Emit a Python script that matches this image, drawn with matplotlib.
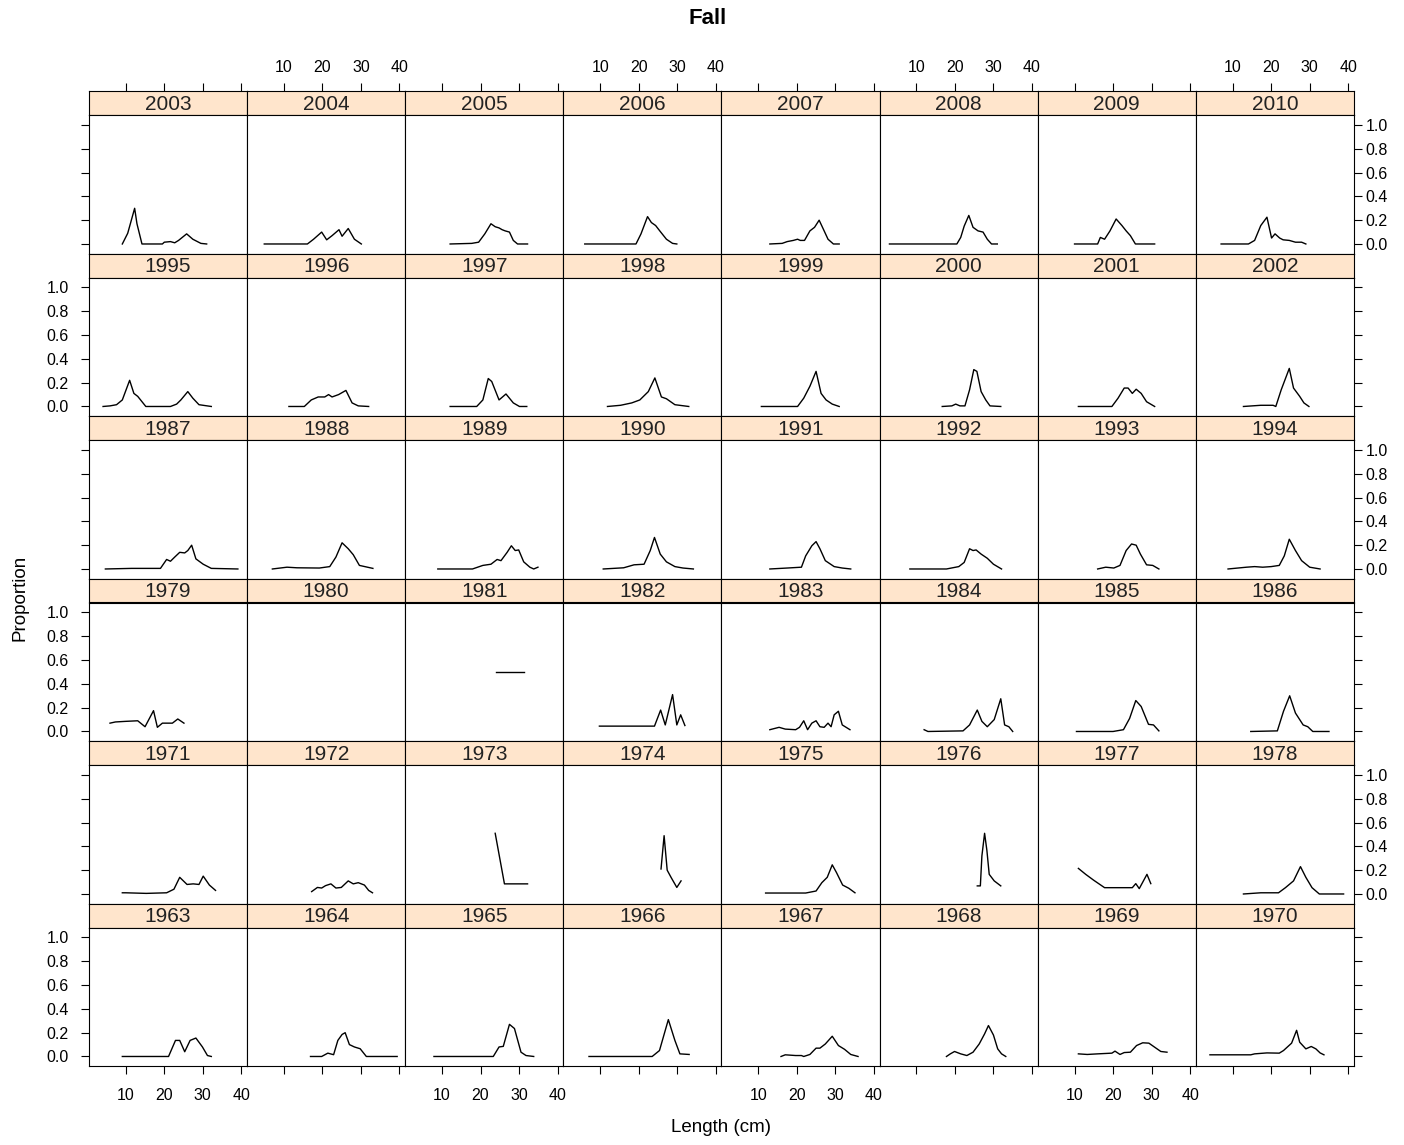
import matplotlib
matplotlib.use('Agg')
import matplotlib.pyplot as plt

plt.rcParams['font.family'] = ['Liberation Sans', 'DejaVu Sans']

# length-frequency proportions by year (Fall survey)
L2003 = [9.1, 10.5, 12.3, 12.9, 14.2, 19.5, 20.0, 21.6, 22.7, 23.7, 25.8, 27.4, 29.5, 31.0]
P2003 = [0, 0.09, 0.30, 0.17, 0, 0, 0.015, 0.02, 0.01, 0.03, 0.085, 0.04, 0.005, 0]
L2004 = [4.9, 16.1, 17.7, 19.8, 21.1, 22.5, 24.3, 25.1, 26.7, 28.3, 30.1]
P2004 = [0, 0, 0.04, 0.10, 0.035, 0.07, 0.12, 0.065, 0.13, 0.04, 0]
L2005 = [12.1, 17.7, 19.5, 21.1, 22.7, 23.8, 24.8, 25.6, 26.4, 27.5, 28.5, 29.6, 32.2]
P2005 = [0, 0.005, 0.015, 0.085, 0.17, 0.145, 0.135, 0.12, 0.11, 0.10, 0.03, 0, 0]
L2006 = [6.0, 19.3, 20.6, 22.3, 23.3, 24.4, 25.6, 27.2, 28.8, 29.9]
P2006 = [0, 0, 0.085, 0.23, 0.18, 0.155, 0.105, 0.04, 0.005, 0]
L2007 = [13.0, 16.2, 17.5, 19.1, 20.2, 20.9, 22.0, 23.4, 24.6, 25.8, 27.1, 28.1, 29.5, 31.0]
P2007 = [0, 0.005, 0.02, 0.03, 0.04, 0.03, 0.03, 0.11, 0.14, 0.20, 0.11, 0.04, 0, 0]
L2008 = [3.0, 20.5, 21.5, 22.4, 23.6, 24.7, 26.0, 27.3, 28.4, 29.5, 31.0]
P2008 = [0, 0, 0.055, 0.15, 0.24, 0.14, 0.11, 0.10, 0.04, 0, 0]
L2009 = [10.0, 16.0, 16.7, 17.8, 19.2, 20.8, 22.3, 23.4, 24.5, 25.8, 30.8]
P2009 = [0, 0, 0.055, 0.04, 0.11, 0.21, 0.155, 0.11, 0.07, 0, 0]
L2010 = [7.0, 14.1, 15.7, 17.3, 18.9, 20.1, 21.0, 22.2, 23.1, 24.7, 26.3, 27.9, 29.0]
P2010 = [0, 0, 0.03, 0.155, 0.225, 0.05, 0.085, 0.05, 0.035, 0.03, 0.015, 0.015, 0]

L1995 = [4.1, 5.9, 7.6, 9.1, 11.0, 12.1, 13.1, 15.2, 21.6, 23.2, 24.3, 26.1, 27.4, 29.0, 32.2]
P1995 = [0, 0.005, 0.015, 0.055, 0.22, 0.11, 0.085, 0, 0, 0.02, 0.055, 0.125, 0.07, 0.015, 0]
L1996 = [11.3, 15.3, 17.1, 18.9, 20.6, 21.6, 22.5, 24.2, 26.1, 27.7, 29.3, 32.0]
P1996 = [0, 0, 0.055, 0.08, 0.08, 0.10, 0.08, 0.10, 0.135, 0.03, 0.005, 0]
L1997 = [12.1, 19.0, 20.6, 22.0, 22.9, 24.8, 26.6, 28.5, 30.1, 32.0]
P1997 = [0, 0, 0.055, 0.235, 0.21, 0.055, 0.105, 0.03, 0, 0]
L1998 = [11.9, 15.3, 18.2, 20.3, 22.5, 24.2, 25.9, 27.2, 29.4, 33.0]
P1998 = [0, 0.01, 0.03, 0.055, 0.125, 0.24, 0.08, 0.065, 0.015, 0]
L1999 = [10.8, 20.2, 21.8, 23.4, 25.0, 26.3, 27.6, 29.2, 31.0]
P1999 = [0, 0, 0.07, 0.17, 0.295, 0.11, 0.055, 0.02, 0]
L2000 = [16.7, 19.2, 20.2, 21.3, 22.6, 23.8, 24.9, 25.7, 26.8, 28.0, 29.1, 31.9]
P2000 = [0, 0.005, 0.02, 0.005, 0.005, 0.14, 0.31, 0.295, 0.125, 0.055, 0.005, 0]
L2001 = [11.0, 19.7, 21.3, 22.9, 23.9, 25.0, 26.0, 27.3, 28.7, 30.8]
P2001 = [0, 0, 0.07, 0.155, 0.155, 0.11, 0.145, 0.11, 0.04, 0]
L2002 = [12.8, 17.3, 20.5, 21.2, 22.6, 24.7, 25.8, 27.4, 28.5, 29.8]
P2002 = [0, 0.01, 0.01, 0, 0.14, 0.32, 0.155, 0.085, 0.03, 0]

L1987 = [4.7, 11.5, 19.0, 20.6, 21.6, 22.7, 24.0, 25.3, 26.1, 27.1, 28.2, 30.1, 32.2, 39.1]
P1987 = [0, 0.005, 0.005, 0.08, 0.065, 0.10, 0.14, 0.135, 0.155, 0.20, 0.085, 0.04, 0.005, 0]
L1988 = [7.0, 10.8, 13.4, 19.2, 21.9, 23.5, 25.1, 26.7, 28.0, 29.6, 33.1]
P1988 = [0, 0.015, 0.01, 0.008, 0.02, 0.10, 0.22, 0.17, 0.12, 0.03, 0.005]
L1989 = [8.9, 17.9, 20.6, 22.7, 24.3, 25.3, 26.9, 28.0, 29.0, 29.9, 31.2, 32.8, 33.8, 34.9]
P1989 = [0, 0, 0.03, 0.04, 0.08, 0.07, 0.14, 0.195, 0.155, 0.16, 0.06, 0.015, 0, 0.015]
L1990 = [10.8, 16.1, 18.8, 21.4, 23.0, 24.1, 25.6, 27.2, 29.4, 31.5, 34.2]
P1990 = [0, 0.01, 0.035, 0.04, 0.155, 0.265, 0.125, 0.06, 0.02, 0.008, 0]
L1991 = [13.0, 17.5, 21.2, 22.3, 23.9, 25.0, 26.0, 27.4, 29.7, 31.8, 34.0]
P1991 = [0, 0.008, 0.015, 0.11, 0.195, 0.23, 0.17, 0.07, 0.02, 0.008, 0]
L1992 = [8.3, 17.8, 21.0, 22.4, 23.8, 24.7, 25.5, 26.8, 28.4, 30.0, 32.1]
P1992 = [0, 0, 0.02, 0.055, 0.17, 0.155, 0.16, 0.125, 0.09, 0.04, 0]
L1993 = [16.0, 18.1, 20.2, 21.8, 23.4, 24.8, 26.0, 27.1, 28.7, 30.3, 31.9]
P1993 = [0, 0.015, 0.008, 0.03, 0.155, 0.21, 0.20, 0.125, 0.035, 0.03, 0]
L1994 = [8.8, 13.6, 15.7, 17.8, 20.0, 22.1, 23.4, 24.7, 26.3, 27.9, 30.0, 32.7]
P1994 = [0, 0.015, 0.02, 0.015, 0.02, 0.03, 0.11, 0.25, 0.155, 0.07, 0.015, 0]

L1979 = [5.9, 7.3, 9.9, 13.1, 15.0, 17.2, 18.2, 19.5, 22.1, 23.5, 25.1]
P1979 = [0.07, 0.08, 0.085, 0.09, 0.04, 0.175, 0.035, 0.07, 0.07, 0.105, 0.07]
L1980 = []
P1980 = []
L1981 = [24.0, 31.2]
P1981 = [0.5, 0.5]
L1982 = [9.8, 24.1, 25.7, 26.9, 28.8, 29.9, 30.9, 32.0]
P1982 = [0.045, 0.045, 0.18, 0.055, 0.31, 0.055, 0.14, 0.05]
L1983 = [13.0, 15.4, 17.0, 19.7, 20.7, 21.8, 22.8, 23.9, 25.0, 26.0, 27.1, 28.1, 28.9, 29.7, 30.8, 31.8, 33.8]
P1983 = [0.015, 0.035, 0.02, 0.015, 0.035, 0.09, 0.015, 0.07, 0.09, 0.04, 0.035, 0.07, 0.04, 0.14, 0.17, 0.055, 0.015]
L1984 = [12.0, 13.0, 22.1, 23.8, 25.8, 27.0, 28.4, 30.2, 31.9, 32.9, 34.0, 35.0]
P1984 = [0.015, 0, 0.005, 0.055, 0.18, 0.085, 0.04, 0.10, 0.275, 0.055, 0.04, 0]
L1985 = [10.5, 20.0, 22.7, 24.3, 25.9, 27.3, 29.2, 30.5, 31.9]
P1985 = [0, 0, 0.015, 0.11, 0.26, 0.21, 0.06, 0.055, 0.005]
L1986 = [14.7, 21.6, 23.2, 24.8, 26.3, 28.3, 29.5, 30.8, 35.0]
P1986 = [0, 0.005, 0.17, 0.30, 0.155, 0.055, 0.04, 0, 0]

L1971 = [9.1, 10.0, 15.3, 20.6, 22.5, 24.0, 25.9, 27.5, 29.0, 30.1, 31.7, 33.3]
P1971 = [0.01, 0.01, 0.005, 0.01, 0.04, 0.14, 0.08, 0.085, 0.08, 0.15, 0.075, 0.03]
L1972 = [17.2, 18.7, 19.8, 20.8, 22.2, 23.5, 24.9, 26.7, 28.0, 29.3, 30.9, 32.0, 33.0]
P1972 = [0.02, 0.055, 0.05, 0.07, 0.085, 0.05, 0.055, 0.11, 0.085, 0.095, 0.075, 0.03, 0.01]
L1973 = [23.8, 26.2, 32.2]
P1973 = [0.51, 0.085, 0.085]
L1974 = [25.8, 26.6, 27.4, 28.4, 29.9, 31.0]
P1974 = [0.21, 0.49, 0.20, 0.14, 0.055, 0.11]
L1975 = [11.9, 22.3, 25.0, 26.5, 27.9, 29.2, 30.3, 31.9, 33.5, 35.1]
P1975 = [0.008, 0.008, 0.025, 0.095, 0.14, 0.245, 0.18, 0.075, 0.048, 0.01]
L1976 = [25.8, 26.6, 27.0, 27.7, 28.3, 28.9, 30.2, 31.9]
P1976 = [0.068, 0.068, 0.32, 0.51, 0.365, 0.165, 0.11, 0.068]
L1977 = [11.0, 12.9, 15.0, 17.8, 25.0, 25.9, 26.8, 28.8, 29.8]
P1977 = [0.215, 0.165, 0.115, 0.053, 0.053, 0.087, 0.045, 0.165, 0.087]
L1978 = [12.8, 17.3, 21.9, 23.7, 25.8, 27.6, 29.0, 30.6, 32.5, 38.8]
P1978 = [0, 0.01, 0.01, 0.053, 0.11, 0.23, 0.14, 0.053, 0, 0]

L1963 = [9.1, 21.1, 22.9, 24.0, 25.3, 26.7, 28.2, 29.9, 31.2, 32.2]
P1963 = [0, 0, 0.135, 0.135, 0.04, 0.135, 0.155, 0.08, 0.008, 0]
L1964 = [16.9, 19.8, 21.4, 22.9, 24.0, 25.1, 25.9, 27.0, 28.3, 29.8, 31.4, 39.4]
P1964 = [0, 0, 0.028, 0.015, 0.135, 0.185, 0.20, 0.10, 0.08, 0.065, 0, 0]
L1965 = [7.9, 23.3, 24.8, 25.9, 27.5, 28.8, 30.5, 31.8, 33.8]
P1965 = [0, 0, 0.08, 0.085, 0.27, 0.235, 0.036, 0.008, 0]
L1966 = [7.1, 23.5, 25.4, 27.7, 29.4, 30.7, 33.1]
P1966 = [0, 0, 0.05, 0.31, 0.135, 0.022, 0.017]
L1967 = [15.9, 17.0, 19.7, 21.2, 21.8, 23.4, 25.0, 26.0, 27.4, 29.2, 30.8, 32.4, 34.0, 35.9]
P1967 = [0, 0.014, 0.008, 0.008, 0, 0.017, 0.07, 0.07, 0.105, 0.17, 0.092, 0.06, 0.017, 0]
L1968 = [17.8, 18.8, 19.9, 21.5, 23.1, 24.7, 26.3, 27.7, 28.7, 30.0, 31.1, 32.1, 33.2]
P1968 = [0, 0.022, 0.042, 0.022, 0.008, 0.036, 0.105, 0.19, 0.26, 0.18, 0.064, 0.022, 0]
L1969 = [11.0, 13.3, 16.0, 19.7, 20.5, 21.8, 22.9, 24.5, 26.1, 27.7, 29.3, 30.8, 32.4, 34.0]
P1969 = [0.022, 0.017, 0.022, 0.028, 0.045, 0.017, 0.033, 0.036, 0.092, 0.115, 0.112, 0.078, 0.042, 0.036]
L1970 = [4.1, 14.7, 15.7, 18.9, 22.1, 23.2, 25.3, 26.6, 27.4, 29.0, 30.4, 31.6, 32.7, 33.7]
P1970 = [0.014, 0.014, 0.022, 0.03, 0.028, 0.05, 0.112, 0.22, 0.12, 0.064, 0.084, 0.064, 0.03, 0.014]

# panel order, top row first (lattice fills bottom-up)
layout = [
    [2003, 2004, 2005, 2006, 2007, 2008, 2009, 2010],
    [1995, 1996, 1997, 1998, 1999, 2000, 2001, 2002],
    [1987, 1988, 1989, 1990, 1991, 1992, 1993, 1994],
    [1979, 1980, 1981, 1982, 1983, 1984, 1985, 1986],
    [1971, 1972, 1973, 1974, 1975, 1976, 1977, 1978],
    [1963, 1964, 1965, 1966, 1967, 1968, 1969, 1970],
]
xticks = [10, 20, 30, 40]
yticks = [0.0, 0.2, 0.4, 0.6, 0.8, 1.0]

curves = {yr: (globals()['L%d' % yr], globals()['P%d' % yr]) for row in layout for yr in row}

W, H = 1404, 1145
fig = plt.figure(figsize=(W / 100, H / 100), dpi=100)


def box(x, y, w, h):
    return [x / W, 1 - (y + h) / H, w / W, h / H]


x0, colw = 89, 158.125
y0, rowh, striph = 91, 162.5, 24
xlim = (0.45, 41.5)
ylim = (-0.08, 1.084)
strip_col = '#ffe5cc'
tk = dict(direction='out', length=5.5, width=0.8, labelsize=11.5)

for r, row in enumerate(layout):
    for c, yr in enumerate(row):
        left = x0 + c * colw
        top = y0 + r * rowh

        # strip with the year
        sax = fig.add_axes(box(left, top, colw, striph))
        sax.set_facecolor(strip_col)
        sax.set_xlim(xlim)
        sax.set_yticks([])
        sax.text(0.5, 0.45, str(yr), transform=sax.transAxes, ha='center',
                 va='center', fontsize=15, color='#222222')
        if r == 0:
            sax.set_xticks(xticks)
            sax.tick_params(axis='x', top=True, bottom=False, labeltop=(c % 2 == 1),
                            labelbottom=False, pad=6, **tk)
        else:
            sax.set_xticks([])
        for s in sax.spines.values():
            s.set_linewidth(0.8)

        # panel
        ax = fig.add_axes(box(left, top + striph, colw, rowh - striph))
        L, P = curves[yr]
        if len(L):
            ax.plot(L, P, color='black', lw=1.0)
        ax.set_xlim(xlim)
        ax.set_ylim(ylim)
        ax.set_xticks(xticks)
        ax.set_yticks(yticks)
        ax.set_yticklabels(['%.1f' % v for v in yticks])
        last = r == len(layout) - 1
        ax.tick_params(axis='x', bottom=last, labelbottom=last and c % 2 == 0,
                       top=False, labeltop=False, pad=10, **tk)
        ax.tick_params(axis='y', left=(c == 0), labelleft=(c == 0 and r % 2 == 1),
                       right=(c == 7), labelright=(c == 7 and r % 2 == 0),
                       pad=(9 if c == 0 else 3), **tk)
        for s in ax.spines.values():
            s.set_linewidth(0.8)

fig.text(708 / W, 1 - 18 / H, 'Fall', ha='center', va='center', fontsize=16, fontweight='bold')
fig.text(721.5 / W, 1 - 1128 / H, 'Length (cm)', ha='center', va='center', fontsize=13.5)
fig.text(20 / W, 1 - 598 / H, 'Proportion', ha='center', va='center', fontsize=13.5, rotation=90)

fig.savefig('out.png', dpi=100)
